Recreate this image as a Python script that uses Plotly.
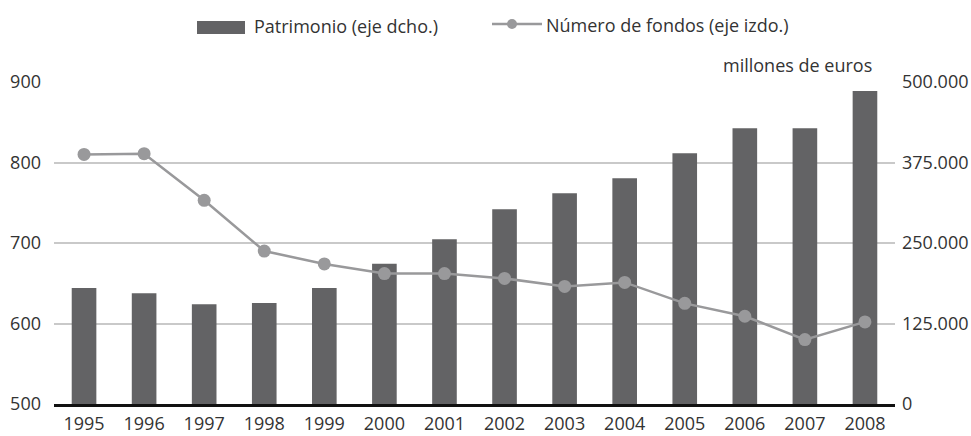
import plotly.graph_objects as go

years = ["1995", "1996", "1997", "1998", "1999", "2000", "2001",
         "2002", "2003", "2004", "2005", "2006", "2007", "2008"]
patrimonio = [180000, 172000, 155000, 156700, 180000, 217600, 256000,
              302500, 327300, 350600, 389400, 428100, 428100, 486000]
num_fondos = [810, 811, 753, 690, 674, 662, 662,
              656, 646, 651, 625, 609, 580, 602]
left_ticks = [500, 600, 700, 800, 900]
right_ticks = [0, 125000, 250000, 375000, 500000]

BAR = "#636365"
LINE = "#99999b"
GRID = "#c9c9c9"
TXT = "#333333"
FONT = "Open Sans"
FS = 18

fig = go.Figure()
# bars on the right-hand axis (y), line on the overlaying left axis (y2) so it draws on top
fig.add_trace(go.Bar(x=years, y=patrimonio, yaxis="y", marker_color=BAR,
                     width=0.41, name="Patrimonio (eje dcho.)", showlegend=False))
fig.add_trace(go.Scatter(x=years, y=num_fondos, yaxis="y2", mode="lines+markers",
                         line=dict(color=LINE, width=2.5),
                         marker=dict(size=13, color=LINE),
                         name="Número de fondos (eje izdo.)", showlegend=False))

W, H = 971, 436
ml, mr, mt, mb = 54, 76, 82, 32
pw, ph = W - ml - mr, H - mt - mb

def px(x):
    return (x - ml) / pw

def py(y):
    return (H - mb - y) / ph

shapes = [
    dict(type="rect", xref="paper", yref="paper", x0=px(197), x1=px(245),
         y0=py(34), y1=py(21), fillcolor=BAR, line=dict(width=0)),
    dict(type="line", xref="paper", yref="paper", x0=px(492), x1=px(542),
         y0=py(24), y1=py(24), line=dict(color=LINE, width=2.5)),
    dict(type="circle", xref="paper", yref="paper", xsizemode="pixel", ysizemode="pixel",
         xanchor=px(512), yanchor=py(24), x0=-5, x1=5, y0=-5, y1=5,
         fillcolor=LINE, line=dict(width=0)),
]
annotations = [
    dict(text="Patrimonio (eje dcho.)", xref="paper", yref="paper", x=px(252), y=py(26),
         xanchor="left", yanchor="middle", showarrow=False, font=dict(size=FS, color=TXT, family=FONT)),
    dict(text="Número de fondos (eje izdo.)", xref="paper", yref="paper", x=px(544), y=py(25),
         xanchor="left", yanchor="middle", showarrow=False, font=dict(size=FS, color=TXT, family=FONT)),
    dict(text="millones de euros", xref="paper", yref="paper", x=px(874), y=py(65),
         xanchor="right", yanchor="middle", showarrow=False, font=dict(size=FS, color=TXT, family=FONT)),
]

fig.update_layout(
    template="none",
    width=W, height=H,
    margin=dict(l=ml, r=mr, t=mt, b=mb, pad=0, autoexpand=False),
    paper_bgcolor="white", plot_bgcolor="white",
    font=dict(family=FONT, size=FS, color=TXT),
    separators=",.",
    showlegend=False,
    xaxis=dict(type="category", range=[-0.5, len(years) - 0.5],
               showline=True, linecolor="#111111", linewidth=2.5,
               showgrid=False, ticks="", tickfont=dict(size=FS, color=TXT),
               ticklabelstandoff=2, automargin=False, zeroline=False),
    yaxis=dict(range=[0, 500000], tickvals=right_ticks, side="right",
               showgrid=True, gridcolor=GRID, gridwidth=1.5,
               zeroline=False, showline=False, ticks="",
               tickformat=",d", tickfont=dict(size=FS, color=TXT),
               ticklabelstandoff=6, automargin=False),
    yaxis2=dict(range=[500, 900], tickvals=left_ticks, overlaying="y", side="left",
                showgrid=False, zeroline=False, showline=False, ticks="",
                tickfont=dict(size=FS, color=TXT), ticklabelstandoff=12, automargin=False),
    shapes=shapes,
    annotations=annotations,
)

fig.write_html("out.html", config={"displayModeBar": False},
               post_script="document.body.style.margin='0px';document.body.style.padding='0px';")
